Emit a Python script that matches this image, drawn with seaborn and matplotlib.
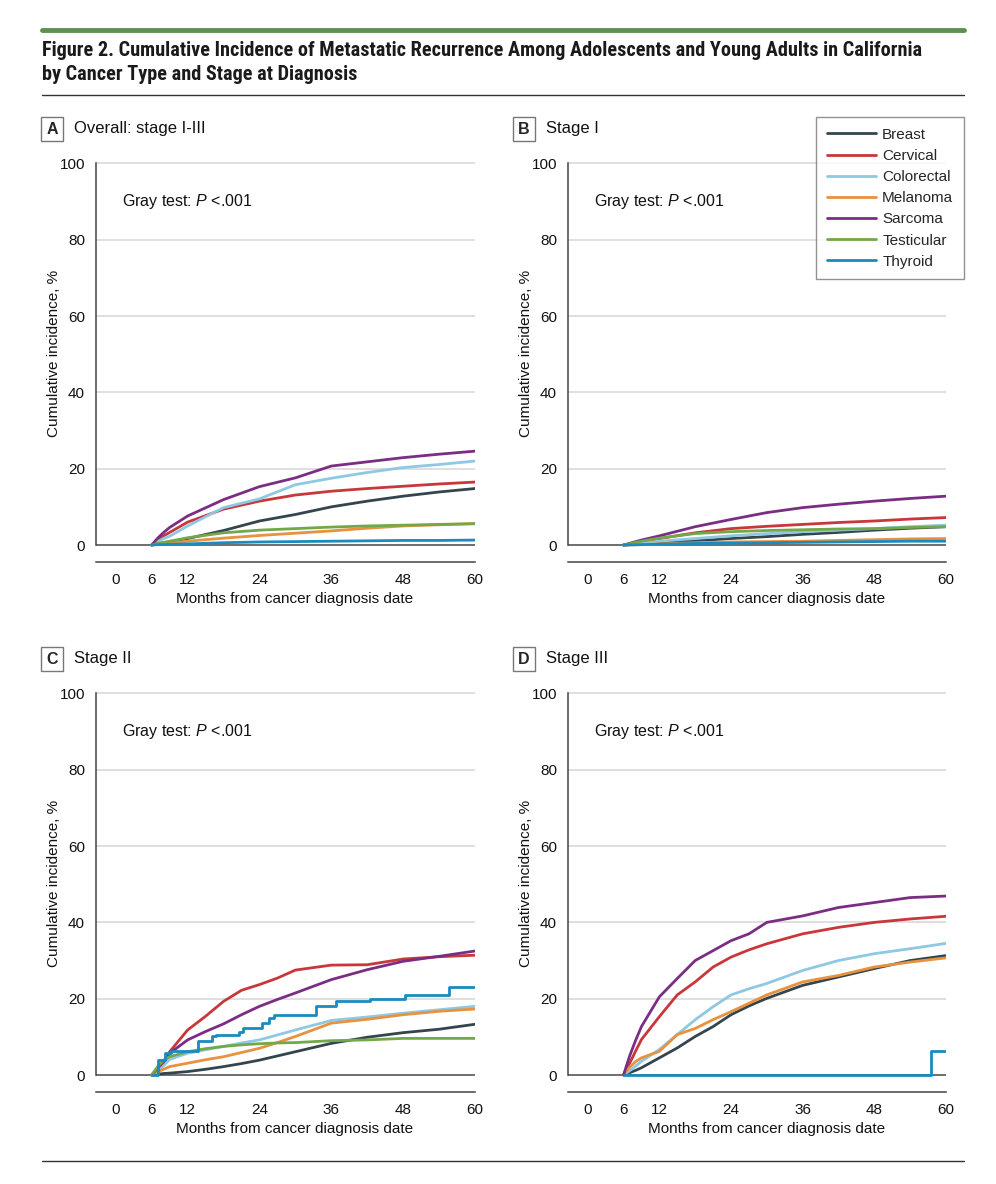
import matplotlib
matplotlib.use("Agg")
import matplotlib.pyplot as plt
from matplotlib.lines import Line2D
import pandas as pd
import seaborn as sns

# Cancer types and colours
cancers = ["Breast", "Cervical", "Colorectal", "Melanoma", "Sarcoma", "Testicular", "Thyroid"]
colors = ["#34454e", "#c8373a", "#8ec8e3", "#e8913e", "#7b2d84", "#72a84a", "#1a8bbf"]

# A: overall stage I-III
months_a = [6, 7, 8, 9, 12, 18, 24, 30, 36, 42, 48, 54, 60]
a_breast = [0, 0.3, 0.6, 0.8, 1.7, 3.8, 6.3, 8.0, 10.0, 11.5, 12.8, 13.9, 14.8]
a_cervical = [0, 1.3, 2.4, 3.3, 6.0, 9.4, 11.5, 13.1, 14.1, 14.8, 15.4, 16.0, 16.5]
a_colorectal = [0, 0.9, 1.7, 2.3, 5.0, 9.8, 12.1, 15.8, 17.5, 19.0, 20.3, 21.1, 22.0]
a_melanoma = [0, 0.2, 0.4, 0.5, 1.0, 1.8, 2.5, 3.1, 3.7, 4.4, 5.0, 5.3, 5.6]
a_sarcoma = [0, 1.8, 3.3, 4.6, 7.6, 11.9, 15.3, 17.6, 20.7, 21.8, 22.9, 23.8, 24.6]
a_testicular = [0, 0.4, 0.7, 1.0, 1.9, 3.2, 3.9, 4.3, 4.7, 5.0, 5.2, 5.4, 5.6]
a_thyroid = [0, 0.1, 0.1, 0.2, 0.3, 0.6, 0.8, 0.9, 1.0, 1.1, 1.2, 1.2, 1.3]

# B: stage I
months_b = [6, 9, 12, 18, 24, 30, 36, 42, 48, 54, 60]
b_breast = [0, 0.3, 0.6, 1.1, 1.7, 2.2, 2.8, 3.3, 3.9, 4.4, 4.8]
b_cervical = [0, 0.8, 1.7, 3.2, 4.3, 4.9, 5.4, 5.9, 6.3, 6.8, 7.2]
b_colorectal = [0, 0.5, 1.0, 1.7, 2.4, 3.0, 3.5, 3.9, 4.3, 4.8, 5.2]
b_melanoma = [0, 0.1, 0.3, 0.6, 0.8, 0.9, 1.0, 1.2, 1.4, 1.6, 1.7]
b_sarcoma = [0, 1.3, 2.4, 4.8, 6.7, 8.5, 9.8, 10.7, 11.5, 12.2, 12.8]
b_testicular = [0, 1.0, 1.8, 3.0, 3.5, 3.8, 4.0, 4.2, 4.3, 4.6, 4.8]
b_thyroid = [0, 0.1, 0.2, 0.4, 0.5, 0.6, 0.7, 0.8, 0.9, 1.0, 1.0]

# C: stage II
months_c = [6, 7, 8, 9, 12, 15, 18, 21, 24, 27, 30, 36, 42, 48, 54, 60]
c_breast = [0, 0.2, 0.4, 0.5, 0.9, 1.5, 2.2, 3.0, 3.9, 5.0, 6.1, 8.3, 9.9, 11.1, 12.0, 13.3]
c_cervical = [0, 1.2, 2.6, 6.1, 11.8, 15.4, 19.3, 22.2, 23.7, 25.4, 27.5, 28.8, 28.9, 30.4, 31.0, 31.4]
c_colorectal = [0, 1.4, 2.5, 4.1, 5.7, 6.6, 7.5, 8.4, 9.2, 10.5, 11.8, 14.3, 15.2, 16.2, 17.1, 18.0]
c_melanoma = [0, 0.8, 1.5, 2.2, 3.1, 4.0, 4.8, 5.9, 7.0, 8.5, 10.1, 13.6, 14.6, 15.8, 16.7, 17.3]
c_sarcoma = [0, 1.8, 3.5, 5.7, 9.2, 11.4, 13.4, 15.8, 18.0, 19.8, 21.5, 25.0, 27.6, 29.8, 31.1, 32.5]
c_testicular = [0, 2.2, 3.9, 4.8, 6.1, 6.9, 7.5, 7.9, 8.2, 8.4, 8.5, 9.0, 9.2, 9.6, 9.6, 9.6]
# thyroid stage II is a clear step function
c_thyroid_t = [6, 7, 8.3, 9.2, 13.8, 16.1, 16.7, 20.6, 21.2, 24.5, 25.6, 26.5, 33.4, 36.8, 42.4, 48.3, 55.7, 60]
c_thyroid = [0, 3.9, 5.7, 6.4, 8.8, 10.1, 10.5, 11.4, 12.3, 13.6, 14.9, 15.8, 18.0, 19.3, 20.0, 21.1, 23.0, 23.0]

# D: stage III (no testicular)
months_d = [6, 7, 8, 9, 12, 15, 18, 21, 24, 27, 30, 36, 42, 48, 54, 60]
d_breast = [0, 0.6, 1.2, 1.9, 4.5, 7.1, 10.1, 12.7, 15.8, 18.1, 20.1, 23.5, 25.7, 27.9, 30.0, 31.3]
d_cervical = [0, 3.0, 6.2, 9.3, 15.3, 21.0, 24.4, 28.3, 30.9, 32.8, 34.4, 37.0, 38.7, 40.0, 40.9, 41.6]
d_colorectal = [0, 1.1, 2.3, 3.6, 6.7, 10.6, 14.5, 17.9, 21.0, 22.6, 24.0, 27.4, 30.0, 31.8, 33.1, 34.5]
d_melanoma = [0, 2.0, 3.5, 4.5, 6.2, 10.6, 12.2, 14.5, 16.6, 18.8, 21.0, 24.4, 26.1, 28.3, 29.6, 30.7]
d_sarcoma = [0, 4.9, 9.0, 12.7, 20.5, 25.3, 30.0, 32.6, 35.2, 37.0, 40.0, 41.7, 43.9, 45.2, 46.5, 46.9]
d_thyroid_t = [6, 57.5, 60]
d_thyroid = [0, 6.2, 6.2]

panels = [
    ("A", "Overall: stage I-III", {
        "Breast": (months_a, a_breast), "Cervical": (months_a, a_cervical),
        "Colorectal": (months_a, a_colorectal), "Melanoma": (months_a, a_melanoma),
        "Sarcoma": (months_a, a_sarcoma), "Testicular": (months_a, a_testicular),
        "Thyroid": (months_a, a_thyroid)}),
    ("B", "Stage I", {
        "Breast": (months_b, b_breast), "Cervical": (months_b, b_cervical),
        "Colorectal": (months_b, b_colorectal), "Melanoma": (months_b, b_melanoma),
        "Sarcoma": (months_b, b_sarcoma), "Testicular": (months_b, b_testicular),
        "Thyroid": (months_b, b_thyroid)}),
    ("C", "Stage II", {
        "Breast": (months_c, c_breast), "Cervical": (months_c, c_cervical),
        "Colorectal": (months_c, c_colorectal), "Melanoma": (months_c, c_melanoma),
        "Sarcoma": (months_c, c_sarcoma), "Testicular": (months_c, c_testicular),
        "Thyroid": (c_thyroid_t, c_thyroid)}),
    ("D", "Stage III", {
        "Breast": (months_d, d_breast), "Cervical": (months_d, d_cervical),
        "Colorectal": (months_d, d_colorectal), "Melanoma": (months_d, d_melanoma),
        "Sarcoma": (months_d, d_sarcoma), "Thyroid": (d_thyroid_t, d_thyroid)}),
]
step_series = {("C", "Thyroid"), ("D", "Thyroid")}

sns.set_style("white")
plt.rcParams["font.family"] = ["Liberation Sans", "DejaVu Sans"]
plt.rcParams["mathtext.fontset"] = "custom"
plt.rcParams["mathtext.it"] = "Liberation Sans:italic"
plt.rcParams["mathtext.rm"] = "Liberation Sans"

W, H = 996, 1184
fig = plt.figure(figsize=(W / 100, H / 100), dpi=100)

def fx(px):
    return px / W

def fy(py):
    return 1 - py / H

palette = dict(zip(cancers, colors))
# axes placement in pixels: left, right, top, bottom
boxes = {"A": (96, 475, 160, 562), "B": (568, 946, 160, 562),
         "C": (96, 475, 690, 1092), "D": (568, 946, 690, 1092)}
label_y = {"A": 129, "B": 129, "C": 659, "D": 659}
label_x = {"A": 52, "B": 524, "C": 52, "D": 524}

for key, name, series in panels:
    l, r, t, b = boxes[key]
    ax = fig.add_axes([fx(l), fy(b), fx(r - l), (b - t) / H])
    for y in [20, 40, 60, 80, 100]:
        ax.axhline(y, color="#d9d9d9", lw=1.2, zorder=0)
    ax.axhline(0, color="#555555", lw=1.2, zorder=1)
    for cancer, (tt, vv) in series.items():
        df = pd.DataFrame({"Months": tt, "Incidence": vv})
        ds = "steps-post" if (key, cancer) in step_series else "default"
        sns.lineplot(data=df, x="Months", y="Incidence", color=palette[cancer],
                     lw=2, ax=ax, drawstyle=ds, zorder=3)
    ax.set_xlim(-3.3, 60)
    ax.set_ylim(-4.45, 100.9)
    ax.set_xticks([0, 6, 12, 24, 36, 48, 60])
    ax.set_yticks([0, 20, 40, 60, 80, 100])
    ax.spines["top"].set_visible(False)
    ax.spines["right"].set_visible(False)
    ax.spines["left"].set_bounds(0, 100)
    for s in ["left", "bottom"]:
        ax.spines[s].set_color("#444444")
        ax.spines[s].set_linewidth(1.1)
    ax.tick_params(axis="both", direction="out", length=5, width=1.1,
                   color="#444444", labelsize=11, labelcolor="#111111", pad=3)
    ax.set_xlabel("Months from cancer diagnosis date", fontsize=11, color="#111111", labelpad=2)
    ax.set_ylabel("Cumulative incidence, %", fontsize=11, color="#111111")
    ax.xaxis.set_label_coords(0.525, -0.075)
    ax.yaxis.set_label_coords(-0.092, 0.52)
    ax.text(1.0, 90, r"Gray test: $\mathit{P}$ <.001", fontsize=11.5, va="center", color="#111111")

    fig.text(fx(label_x[key]), fy(label_y[key]), key, fontsize=11.5, fontweight="bold",
             ha="center", va="center",
             bbox=dict(boxstyle="square,pad=0.3", fc="white", ec="#777777", lw=1))
    fig.text(fx(label_x[key] + 22), fy(label_y[key]), name, fontsize=12, va="center", color="#111111")

# legend on panel B
handles = [Line2D([0], [0], color=c, lw=2) for c in colors]
fig.legend(handles, cancers, loc="upper right", bbox_to_anchor=(fx(964), fy(117)),
           borderaxespad=0, frameon=True, fancybox=False, edgecolor="#777777", fontsize=11,
           handlelength=3.2, labelspacing=0.47, borderpad=0.7, handletextpad=0.4)

# header / footer
title_font = ["Liberation Sans Narrow", "Roboto Condensed", "DejaVu Sans Condensed", "Liberation Sans"]
fig.add_artist(Line2D([fx(42), fx(964)], [fy(30), fy(30)], color="#5e9050", lw=3.5))
fig.add_artist(Line2D([fx(42), fx(964)], [fy(95), fy(95)], color="#333333", lw=1))
fig.add_artist(Line2D([fx(42), fx(964)], [fy(1161), fy(1161)], color="#333333", lw=1))
fig.text(fx(42), fy(50), "Figure 2. Cumulative Incidence of Metastatic Recurrence Among Adolescents and Young Adults in California",
         fontsize=14.6, fontweight="bold", va="center", family=title_font, color="#1a1a1a")
fig.text(fx(42), fy(75), "by Cancer Type and Stage at Diagnosis",
         fontsize=14.6, fontweight="bold", va="center", family=title_font, color="#1a1a1a")

fig.savefig("out.png", dpi=100, facecolor="white")
